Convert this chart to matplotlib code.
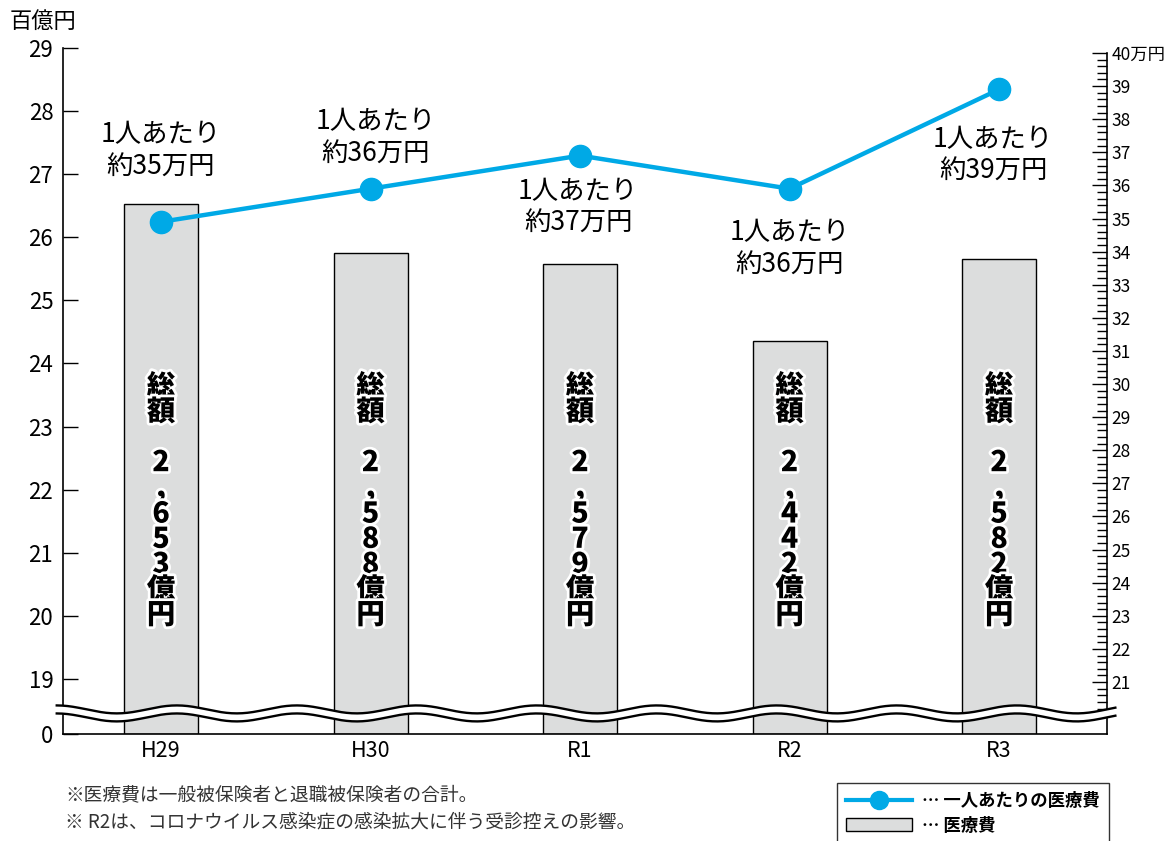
import numpy as np
import matplotlib
matplotlib.use("Agg")
import matplotlib.pyplot as plt
import matplotlib.patheffects as pe
from matplotlib.lines import Line2D
from matplotlib.patches import Patch

plt.rcParams['font.family'] = ['Noto Sans CJK JP', 'DejaVu Sans']

# データ
years = ['H29', 'H30', 'R1', 'R2', 'R3']
total = [26.53, 25.75, 25.58, 24.35, 25.66]          # 百億円（棒の高さ）
total_text = ['2,653', '2,588', '2,579', '2,442', '2,582']
per_person = [34.9, 35.9, 36.9, 35.9, 38.9]          # 万円
per_person_text = ['35', '36', '37', '36', '39']
label_offsets = [(0, 71), (5, 51), (-2, -52), (0, -60), (-6, -66)]

BAR_COLOR = '#dcdddd'
LINE_COLOR = '#00a9e6'

fig = plt.figure(figsize=(11.76, 8.41), dpi=100)
ax = fig.add_axes([63 / 1176, 1 - 734 / 841, 1044 / 1176, 686 / 841])
ax2 = ax.twinx()

# 0〜19 の間を圧縮する軸
k = 0.872 / 19


def fwd(y):
    y = np.asarray(y, dtype=float)
    return np.where(y >= 19, y, 19 - (19 - y) * k)


def inv(u):
    u = np.asarray(u, dtype=float)
    return np.where(u >= 19, u, 19 - (19 - u) / k)


ax.set_yscale('function', functions=(fwd, inv))
ax.set_ylim(0, 29)
ax.set_xlim(-0.468, 4.515)

x = np.arange(len(years))
ax.bar(x, total, width=0.353, color=BAR_COLOR, edgecolor='black', linewidth=1, zorder=2)

for i, t in enumerate(total_text):
    s = '総\n額\n\n' + '\n'.join(list(t)) + '\n億\n円'
    ax.text(i, 0.34, s, transform=ax.get_xaxis_transform(), ha='center', va='center',
            fontsize=20.5, fontweight='black', linespacing=0.82, color='black', zorder=3,
            path_effects=[pe.withStroke(linewidth=4, foreground='white')])

ax.set_yticks([0] + list(range(19, 30)))
ax.set_yticklabels(['0'] + [str(v) for v in range(19, 30)])
ax.tick_params(axis='y', direction='in', length=11, width=1, labelsize=16, pad=7)
ax.set_xticks(x)
ax.set_xticklabels(years)
ax.tick_params(axis='x', length=0, labelsize=15.5, pad=4)
ax.spines['top'].set_visible(False)
ax.spines['right'].set_visible(False)
ax.spines['left'].set_linewidth(1.2)
ax.spines['bottom'].set_linewidth(1.2)

# 右軸：一人あたり
ax2.set_ylim(19.43, 40.15)
ax2.plot(x, per_person, color=LINE_COLOR, linewidth=3.2, marker='o', markersize=16, zorder=5)
for i, (v, t) in enumerate(zip(per_person, per_person_text)):
    ax2.annotate('1人あたり\n約' + t + '万円', xy=(i, v), xytext=label_offsets[i],
                 textcoords='offset pixels', ha='center', va='center', fontsize=19,
                 linespacing=1.25)

ax2.set_yticks(range(21, 41))
ax2.set_yticklabels([str(v) for v in range(21, 40)] + ['40万円'])
minor = [m for m in np.round(np.arange(20.2, 40.01, 0.2), 1) if abs(m - round(m)) > 0.01]
ax2.set_yticks(minor, minor=True)
ax2.tick_params(axis='y', which='major', direction='in', length=11, width=1, labelsize=12.5, pad=3)
ax2.tick_params(axis='y', which='minor', direction='in', length=7, width=1)
for s in ['top', 'left', 'bottom']:
    ax2.spines[s].set_visible(False)
ax2.spines['right'].set_bounds(19.43, 40)
ax2.spines['right'].set_linewidth(1.2)

# 波線（省略記号）
wx = np.linspace(-0.006, 1.008, 600)
phase = (wx - (-0.006)) / (120 / 1044) * 2 * np.pi
center = 0.030
amp = 0.0058
gap = 0.0117
upper = center + gap / 2 + amp * np.cos(phase)
lower = center - gap / 2 + amp * np.cos(phase)
ax2.fill_between(wx, lower, upper, color='white', transform=ax2.transAxes, clip_on=False, zorder=8, linewidth=0)
ax2.plot(wx, upper, color='black', linewidth=1.7, transform=ax2.transAxes, clip_on=False, zorder=9)
ax2.plot(wx, lower, color='black', linewidth=1.7, transform=ax2.transAxes, clip_on=False, zorder=9)

fig.text(10 / 1176, 1 - 21 / 841, '百億円', fontsize=16, va='center', ha='left')

fig.text(65 / 1176, 1 - 795 / 841, '※医療費は一般被保険者と退職被保険者の合計。',
         fontsize=13.5, color='#333333', va='center')
fig.text(65 / 1176, 1 - 822 / 841, '※ R2は、コロナウイルス感染症の感染拡大に伴う受診控えの影響。',
         fontsize=13.5, color='#333333', va='center')

handles = [Line2D([], [], color=LINE_COLOR, linewidth=3, marker='o', markersize=13),
           Patch(facecolor=BAR_COLOR, edgecolor='black', linewidth=1)]
leg = fig.legend(handles, ['… 一人あたりの医療費', '… 医療費'], loc='upper left',
                 bbox_to_anchor=(837 / 1176, 1 - 783 / 841), fontsize=12.5, handlelength=3.8,
                 frameon=True, fancybox=False, edgecolor='black', borderpad=0.5,
                 labelspacing=0.4, handletextpad=0.6, borderaxespad=0)
leg.get_frame().set_linewidth(1)
for t in leg.get_texts():
    t.set_fontweight('bold')

fig.savefig('out.png', dpi=100)
